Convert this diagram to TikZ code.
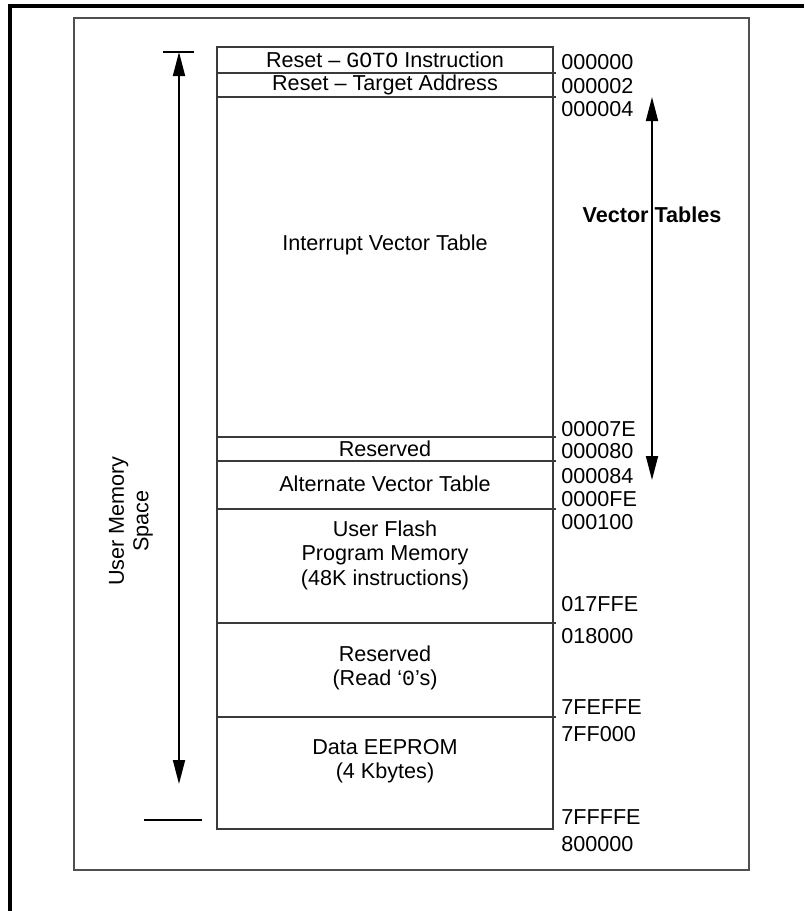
\documentclass[tikz,border=0pt]{standalone}
\usepackage{fontspec}
\setmainfont{Liberation Sans}
\setmonofont{Liberation Mono}
\usetikzlibrary{arrows.meta,positioning}
\definecolor{linegray}{HTML}{3A3A3A}
\definecolor{framegray}{HTML}{505050}

\begin{document}
\begin{tikzpicture}[x=0.5pt,y=-0.5pt,
    font=\fontsize{10.8}{12.3}\selectfont,
    every node/.style={inner sep=0pt},
    cell/.style={align=center},
    addr/.style={anchor=west},
    memline/.style={linegray, line width=1pt},
    span/.style={line width=0.9pt, {Triangle[length=12pt,width=6pt]}-{Triangle[length=12pt,width=6pt]}}]
  \useasboundingbox (0,0) rectangle (804,911);

  % outer and inner frame
  \draw[line width=1.6pt] (10,911) -- (10,6) -- (804,6);
  \draw[framegray, line width=1.1pt] (74,18) rectangle (749,870);

  % the memory map
  \draw[memline] (217,47) rectangle (553,829);
  \foreach \y in {73,97,437,461,509,623,717}
    \draw[memline] (217,\y) -- (556,\y);

  \node[cell] (gotoins) at (385,60) {Reset – \texttt{GOTO} Instruction};
  \node[cell] (target) at (385,85) {Reset – Target Address};
  \node[cell] (ivt) at (385,245) {Interrupt Vector Table};
  \node[cell] (resone) at (385,449) {Reserved};
  \node[cell] (aivt) at (385,484) {Alternate Vector Table};
  \node[cell] (flash) at (385,555) {User Flash\\Program Memory\\(48K instructions)};
  \node[cell] (restwo) at (385,668) {Reserved\\(Read ‘\texttt{0}’s)};
  \node[cell] (eeprom) at (385,761) {Data EEPROM\\(4 Kbytes)};

  % addresses
  \foreach \a/\y in {000000/62,000002/86,000004/109,00007E/429,000080/451,
      000084/476,0000FE/499,000100/522,017FFE/604,018000/636,
      7FEFFE/707,7FF000/734,7FFFFE/817,800000/844}
    \node[addr] (a\a) at (561,\y) {\a};

  % user memory space
  \coordinate (umtop) at (179,52);
  \coordinate (umbot) at (179,784);
  \draw[line width=0.9pt] (163,52) -- (194,52);
  \draw[line width=0.9pt] (144,820) -- (202,820);
  \draw[span] (umtop) -- (umbot);
  \node[rotate=90, cell] (ums) at (131,521) {User Memory\\Space};

  % vector tables
  \node (vt) at (652,215) {\bfseries Vector Tables};
  \coordinate (vtop) at (652,97);
  \coordinate (vbot) at (652,480);
  \draw[span] (vtop) -- (vbot);
\end{tikzpicture}
\end{document}
